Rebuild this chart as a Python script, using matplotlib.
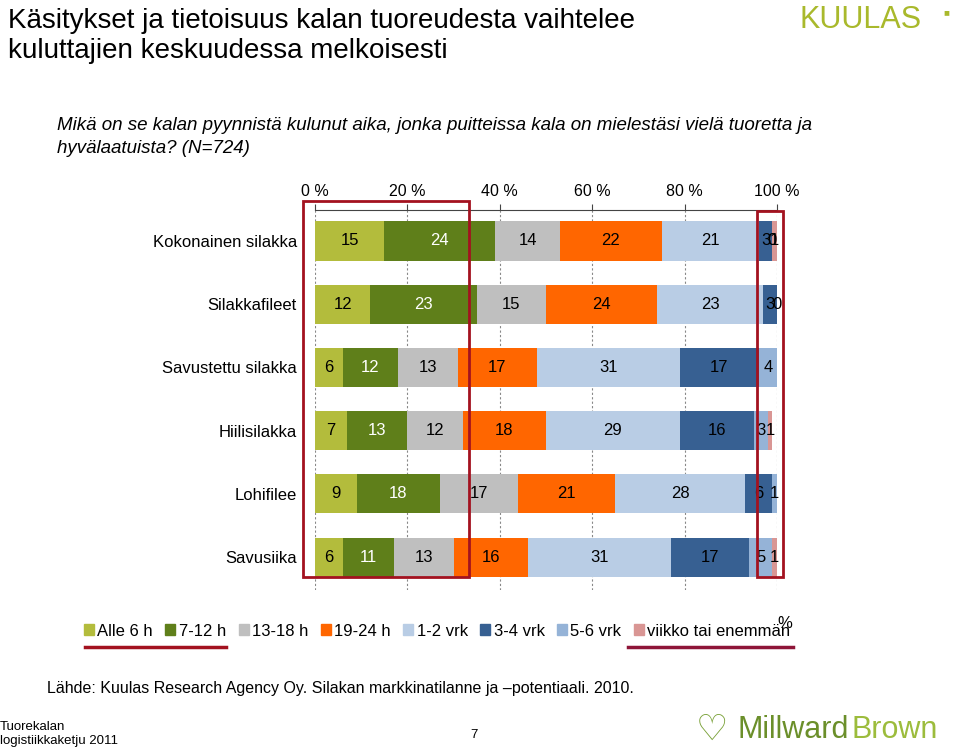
import matplotlib.pyplot as plt
import matplotlib.patches as mpatches
import numpy as np

plt.rcParams['font.family'] = ['Liberation Sans', 'DejaVu Sans']

products = ['Kokonainen silakka', 'Silakkafileet', 'Savustettu silakka',
            'Hiilisilakka', 'Lohifilee', 'Savusiika']
categories = ['Alle 6 h', '7-12 h', '13-18 h', '19-24 h', '1-2 vrk',
              '3-4 vrk', '5-6 vrk', 'viikko tai enemmän']
colors = ['#b3bc3c', '#5f7f1a', '#bfbfbf', '#ff6600', '#b9cde5',
          '#376092', '#95b3d7', '#d99694']

# percent per category, one list per product (None = no segment / no label)
alle6 = [15, 12, 6, 7, 9, 6]
h7_12 = [24, 23, 12, 13, 18, 11]
h13_18 = [14, 15, 13, 12, 17, 13]
h19_24 = [22, 24, 17, 18, 21, 16]
vrk1_2 = [21, 23, 31, 29, 28, 31]
vrk3_4 = [3, 3, 17, 16, 6, 17]
vrk5_6 = [0, 0, 4, 3, 1, 5]
viikko = [1, None, None, 1, None, 1]
series = [alle6, h7_12, h13_18, h19_24, vrk1_2, vrk3_4, vrk5_6, viikko]

W, H = 960, 754
fig = plt.figure(figsize=(W / 100, H / 100), dpi=100)

def fx(x):
    return x / W

def fy(y):
    return 1 - y / H

ax = fig.add_axes([fx(315), fy(590), fx(777) - fx(315), fy(210) - fy(590)])
y = np.arange(len(products))
left = np.zeros(len(products))
for vals, col, name in zip(series, colors, categories):
    v = np.array([0 if a is None else a for a in vals], dtype=float)
    ax.barh(y, v, left=left, height=0.62, color=col, label=name, zorder=3)
    txtcol = 'white' if col == '#5f7f1a' else 'black'
    for i, a in enumerate(vals):
        if a is None:
            continue
        ax.text(left[i] + v[i] / 2, y[i], str(a), ha='center', va='center',
                fontsize=12, color=txtcol, zorder=4)
    left += v

ax.set_xlim(0, 100)
ax.set_ylim(5.52, -0.49)
ax.set_yticks(y)
ax.set_yticklabels(products, fontsize=12)
ax.set_xticks(np.arange(0, 101, 20))
ax.set_xticklabels([f'{t} %' for t in range(0, 101, 20)], fontsize=11.5)
ax.xaxis.tick_top()
ax.tick_params(axis='x', direction='out', length=4, pad=4, colors='#444444', labelcolor='black')
ax.tick_params(axis='y', length=0, pad=13)
for s in ['left', 'right', 'bottom']:
    ax.spines[s].set_visible(False)
ax.spines['top'].set_color('#444444')
ax.grid(axis='x', linestyle=(0, (2, 2)), color='#888888', linewidth=0.8, zorder=0)

# red highlight boxes
red = '#a3121f'
fig.patches.append(mpatches.Rectangle((fx(303), fy(577)), fx(469) - fx(303), fy(201) - fy(577),
                                      transform=fig.transFigure, fill=False, edgecolor=red, linewidth=2))
fig.patches.append(mpatches.Rectangle((fx(757), fy(577)), fx(783) - fx(757), fy(211) - fy(577),
                                      transform=fig.transFigure, fill=False, edgecolor=red, linewidth=2))

# legend
handles = [mpatches.Patch(color=c) for c in colors]
fig.legend(handles, categories, loc='center left', bbox_to_anchor=(fx(84), fy(631)),
           ncol=8, frameon=False, fontsize=12, handlelength=0.6, handleheight=0.6,
           handletextpad=0.2, columnspacing=0.75, borderaxespad=0, borderpad=0)
fig.text(fx(777), fy(624), '%', fontsize=12, va='center')
fig.add_artist(plt.Line2D([fx(85), fx(226)], [fy(647), fy(647)], color=red, linewidth=2.5))
fig.add_artist(plt.Line2D([fx(628), fx(793)], [fy(647), fy(647)], color='#8e1538', linewidth=2.5))

# titles and texts
fig.text(fx(8), fy(8), 'Käsitykset ja tietoisuus kalan tuoreudesta vaihtelee\nkuluttajien keskuudessa melkoisesti',
         fontsize=20, va='top', ha='left', linespacing=1.2)
fig.text(fx(57), fy(137), 'Mikä on se kalan pyynnistä kulunut aika, jonka puitteissa kala on mielestäsi vielä tuoretta ja\nhyvälaatuista? (N=724)',
         fontsize=13.5, style='italic', va='center', ha='left', linespacing=1.45)
fig.text(fx(47), fy(688), 'Lähde: Kuulas Research Agency Oy. Silakan markkinatilanne ja \u2013potentiaali. 2010.',
         fontsize=11.5, va='center')
fig.text(fx(0), fy(734), 'Tuorekalan\nlogistiikkaketju 2011', fontsize=9.5, va='center', linespacing=1.3)
fig.text(fx(470), fy(735), '7', fontsize=9.5, va='center')

# logos as text
fig.text(fx(800), fy(20), 'KUULAS', fontsize=22, color='#a9b92c', va='center', fontweight='light')
fig.text(fx(943), fy(12), '\u25a0', fontsize=7, color='#a9b92c', va='center')
fig.text(fx(696), fy(730), '\u2661', fontsize=26, color='#7ba23a', va='center', family='DejaVu Sans')
fig.text(fx(738), fy(730), 'Millward', fontsize=22, color='#6b8f2a', va='center')
fig.text(fx(851), fy(730), 'Brown', fontsize=22, color='#9cbc3c', va='center')

fig.savefig('out.png', dpi=100)
